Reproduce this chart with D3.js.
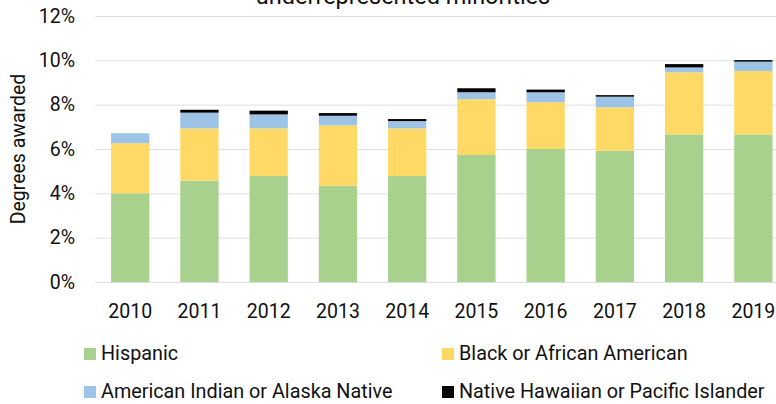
<!DOCTYPE html>
<html>
<head>
<meta charset="utf-8">
<script src="https://cdn.jsdelivr.net/npm/d3@7"></script>
<style>
  body { margin: 0; background: #fff; }
  svg { display: block; font-family: Roboto, "Liberation Sans", sans-serif; }
</style>
</head>
<body>
<div id="chart"></div>
<script>
// share of degrees awarded, by year (percent)
let years = ["2010", "2011", "2012", "2013", "2014", "2015", "2016", "2017", "2018", "2019"];
let hispanic = [4.00, 4.57, 4.78, 4.34, 4.78, 5.73, 6.00, 5.92, 6.66, 6.66];
let black    = [2.26, 2.36, 2.15, 2.73, 2.15, 2.52, 2.11, 1.96, 2.80, 2.86];
let aian     = [0.45, 0.71, 0.63, 0.43, 0.33, 0.31, 0.45, 0.48, 0.22, 0.42];
let nhpi     = [0.00, 0.13, 0.17, 0.12, 0.09, 0.18, 0.12, 0.07, 0.15, 0.07];
let yTicks = [0, 2, 4, 6, 8, 10, 12];

let seriesNames = ["Hispanic", "Black or African American", "American Indian or Alaska Native", "Native Hawaiian or Pacific Islander"];
let colors = ["#a9d18e", "#ffd966", "#9dc3e6", "#000000"];

let width = 776, height = 404;

let rows = years.map(function (y, i) {
    return { year: y, s0: hispanic[i], s1: black[i], s2: aian[i], s3: nhpi[i] };
});

let stack = d3.stack().keys(["s0", "s1", "s2", "s3"]);
let layers = stack(rows);

let svg = d3.select("#chart")
    .append("svg")
    .attr("width", width)
    .attr("height", height);

let x = d3.scaleBand()
    .domain(years)
    .range([95.6, 788])
    .paddingInner(0.447)
    .paddingOuter(0.2235);

let y = d3.scaleLinear()
    .domain([0, 12])
    .range([282, 16]);

// title, cut off at the top edge like the reference
svg.append("text")
    .attr("x", 403)
    .attr("y", 4)
    .style("text-anchor", "middle")
    .style("font-size", "23.5px")
    .style("fill", "#111")
    .text("underrepresented minorities");

// gridlines
svg.selectAll(".grid")
    .data(yTicks)
    .enter().append("line")
    .attr("class", "grid")
    .attr("x1", 95)
    .attr("x2", width)
    .attr("y1", function (d) { return y(d) + 0.5; })
    .attr("y2", function (d) { return y(d) + 0.5; })
    .style("stroke", "#dedede")
    .style("stroke-width", 1);

// y tick labels
svg.selectAll(".ylab")
    .data(yTicks)
    .enter().append("text")
    .attr("class", "ylab")
    .attr("x", 75)
    .attr("y", function (d) { return y(d); })
    .attr("dy", "0.35em")
    .style("text-anchor", "end")
    .style("font-size", "19.5px")
    .style("fill", "#111")
    .text(function (d) { return d + "%"; });

// axis title
svg.append("text")
    .attr("transform", "translate(25,149) rotate(-90)")
    .style("text-anchor", "middle")
    .style("font-size", "19.5px")
    .style("fill", "#111")
    .text("Degrees awarded");

// bars
let groups = svg.selectAll(".layer")
    .data(layers)
    .enter().append("g")
    .attr("class", "layer")
    .style("fill", function (d, i) { return colors[i]; });

groups.selectAll("rect")
    .data(function (d) { return d; })
    .enter().append("rect")
    .attr("x", function (d) { return x(d.data.year); })
    .attr("y", function (d) { return y(d[1]); })
    .attr("width", x.bandwidth())
    .attr("height", function (d) { return Math.max(0, y(d[0]) - y(d[1])); });

// year labels
svg.selectAll(".xlab")
    .data(years)
    .enter().append("text")
    .attr("class", "xlab")
    .attr("x", function (d) { return x(d) + x.bandwidth() / 2; })
    .attr("y", 318)
    .style("text-anchor", "middle")
    .style("font-size", "19.5px")
    .style("fill", "#111")
    .text(function (d) { return d; });

// legend
let legendPos = [[84, 348], [442, 348], [84, 386], [442, 386]];
let legend = svg.selectAll(".legend")
    .data(seriesNames)
    .enter().append("g")
    .attr("class", "legend")
    .attr("transform", function (d, i) { return "translate(" + legendPos[i][0] + "," + legendPos[i][1] + ")"; });

legend.append("rect")
    .attr("width", 12)
    .attr("height", 12)
    .style("fill", function (d, i) { return colors[i]; });

legend.append("text")
    .attr("x", 17)
    .attr("y", 12)
    .style("font-size", "19.8px")
    .style("fill", "#111")
    .text(function (d) { return d; });
</script>
</body>
</html>
